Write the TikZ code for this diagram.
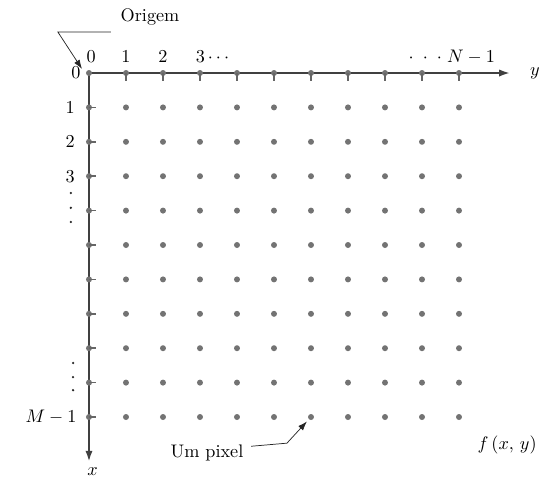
\documentclass[tikz,border=0pt]{standalone}
\usetikzlibrary{arrows.meta, positioning, calc}

\begin{document}
\begin{tikzpicture}[x=20.35pt, y=-18.92pt,
          pixel/.style={circle, fill=black!55, inner sep=0pt, minimum size=3.3pt},
          dotmark/.style={circle, fill=black!85, inner sep=0pt, minimum size=1.4pt},
          axis/.style={-{Latex[length=6pt, width=4pt]}, line width=1.1pt, color=black!75},
          tick/.style={line width=0.9pt, color=black!60},
          leader/.style={-{Latex[length=5pt, width=3.5pt]}, thin, color=black!85},
          lbl/.style={inner sep=1pt, font=\normalsize}]

        \useasboundingbox (-2.405,-2.122) rectangle (12.216,11.83);

        % eixos
        \coordinate (o) at (0,0);
        \coordinate (yend) at (11.38,0);
        \coordinate (xend) at (0,11.3);
        \draw [axis] (o) -- (yend);
        \draw [axis] (o) -- (xend);
        \node [lbl] (ylab) at (12.05,0) {$y$};
        \node [lbl] (xlab) at (0.1,11.6) {$x$};

        % pixels da grade
        \foreach \r in {0,...,10}
          \foreach \c in {0,...,10}
            \node [pixel] (p-\r-\c) at (\c,\r) {};
        \foreach \c in {1,...,10}
          \draw [tick] (p-0-\c.center) -- ++(0,0.22);
        \foreach \r in {1,...,10}
          \draw [tick] (p-\r-0.center) -- ++(0.2,0);

        % indices
        \node [lbl] (c0) at (0.06,-0.47) {$0$};
        \node [lbl] (c1) at (1,-0.47) {$1$};
        \node [lbl] (c2) at (2,-0.47) {$2$};
        \node [lbl, anchor=west, xshift=-3.5pt] (c3) at (3,-0.47) {$3\cdots$};
        \node [lbl, anchor=east] (cN) at (11.03,-0.47) {$\cdot\;\cdot\;\cdot\;N-1$};
        \node [lbl] (r0) at (-0.35,0) {$0$};
        \node [lbl] (r1) at (-0.51,1) {$1$};
        \node [lbl] (r2) at (-0.51,2) {$2$};
        \node [lbl] (r3) at (-0.51,3) {$3$};
        \foreach \k/\yy in {1/3.49, 2/3.92, 3/4.33}
          \node [dotmark] (vd-\k) at (-0.49,\yy) {};
        \foreach \k/\yy in {1/8.43, 2/8.84, 3/9.22}
          \node [dotmark] (vdb-\k) at (-0.43,\yy) {};
        \node [lbl, anchor=east] (rM) at (-0.28,10) {$M-1$};
        \node [lbl] (fxy) at (11.3,10.81) {$f\,(x,\,y)$};

        % rotulos
        \node [lbl] (origem) at (1.65,-1.63) {Origem};
        \coordinate (oa) at (0.59,-1.19);
        \coordinate (ob) at (-0.84,-1.19);
        \draw [leader] (oa) -- (ob) -- ($(o)+(-0.19,-0.12)$);
        \node [lbl] (umpixel) at (3.19,11.05) {Um pixel};
        \coordinate (ub) at (5.35,10.76);
        \draw [leader, shorten >=1.5pt] ($(umpixel.east)+(0.15,-0.2)$) -- (ub) -- (p-10-6);
      \end{tikzpicture}
\end{document}
